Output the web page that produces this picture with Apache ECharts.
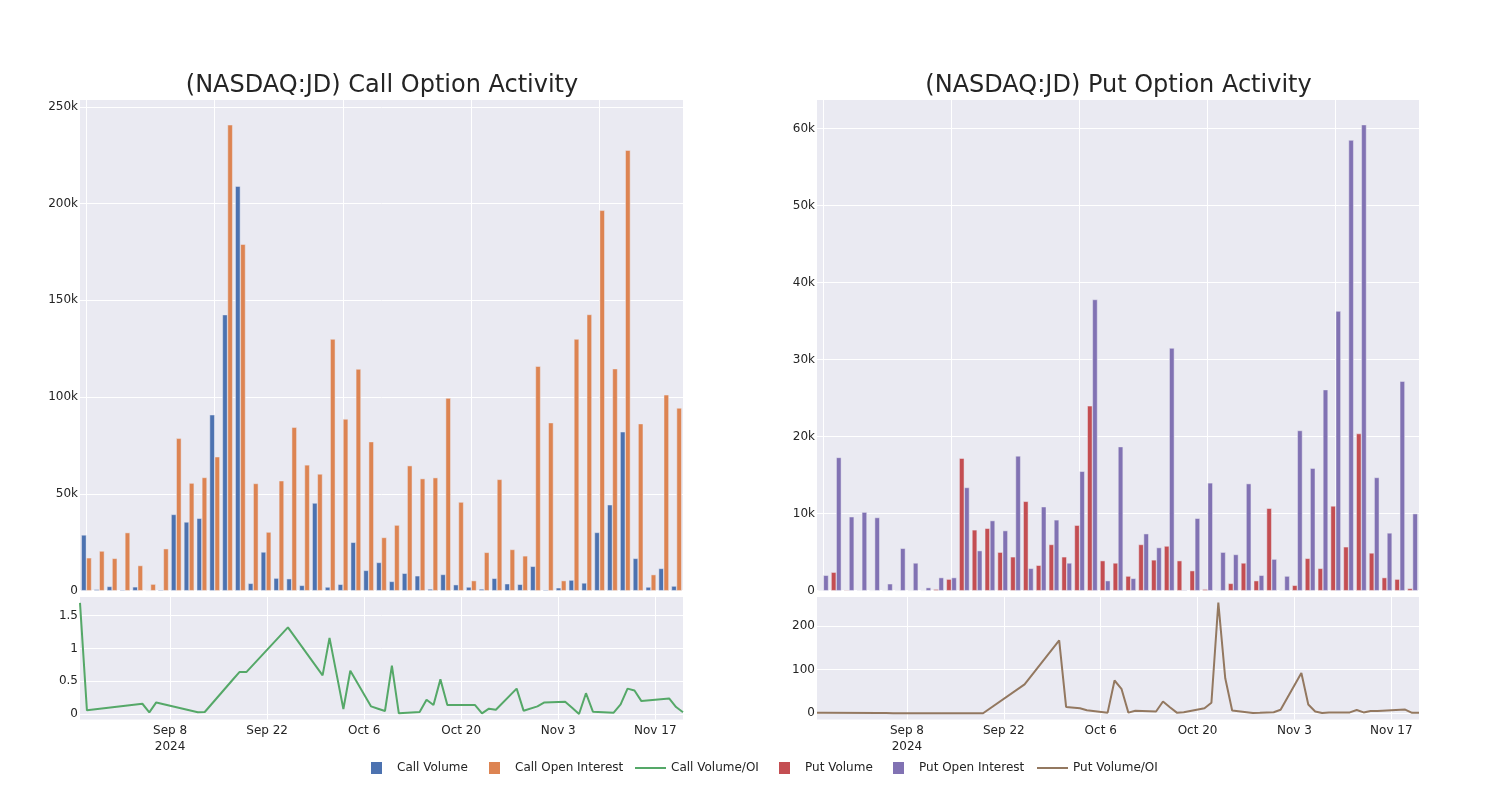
<!DOCTYPE html>
<html>
<head>
<meta charset="utf-8">
<script src="https://cdn.jsdelivr.net/npm/echarts@6/dist/echarts.min.js"></script>
<style>
  html, body { margin: 0; padding: 0; background: #fff; }
  #chart { width: 1500px; height: 800px; }
</style>
</head>
<body>
<div id="chart"></div>
<script>
// ---------- DATA ----------
const dates = [
  '2024-08-26','2024-08-27','2024-09-04','2024-09-05','2024-09-06','2024-09-12','2024-09-13',
  '2024-09-17','2024-09-18','2024-09-19','2024-09-25','2024-09-30','2024-10-01','2024-10-03',
  '2024-10-04','2024-10-07','2024-10-08','2024-10-09','2024-10-10','2024-10-11','2024-10-14',
  '2024-10-15','2024-10-16','2024-10-17','2024-10-18','2024-10-21','2024-10-22','2024-10-23',
  '2024-10-24','2024-10-25','2024-10-28','2024-10-29','2024-10-31','2024-11-01','2024-11-04',
  '2024-11-05','2024-11-06','2024-11-07','2024-11-08','2024-11-11','2024-11-12','2024-11-13',
  '2024-11-14','2024-11-15','2024-11-19','2024-11-20','2024-11-21'
];
const callVolume = [
  28800, 700, 2200, 500, 2000, 100, 500, 39400, 35500, 37400, 90900, 142600, 209000, 3800,
  20000, 6500, 6200, 2750, 45300, 1900, 3300, 25000, 10500, 14600, 4800, 9000, 7700, 900,
  8400, 3100, 1900, 900, 6400, 3600, 3300, 12600, 500, 1500, 5500, 4000, 30100, 44400,
  82100, 16700, 1900, 11500, 2400
];
const callOpenInterest = [
  17000, 20500, 16700, 30000, 13000, 3400, 21700, 78700, 55600, 58500, 69200, 240700, 179000, 55400,
  30300, 56800, 84400, 65000, 60300, 130000, 88700, 114500, 77000, 27500, 33900, 64600, 57900, 58400,
  99500, 45800, 5200, 19800, 57500, 21300, 18000, 116000, 86800, 5200, 130000, 142700, 196500, 114700,
  227600, 86300, 8300, 101200, 94400
];
const callVolumeOI = [
  1.69, 0.06, 0.16, 0.03, 0.18, 0.03, 0.035, 0.52, 0.64, 0.64, 1.32, 0.59, 1.16, 0.08,
  0.66, 0.12, 0.085, 0.05, 0.74, 0.015, 0.035, 0.22, 0.14, 0.53, 0.14, 0.14, 0.14, 0.015,
  0.085, 0.07, 0.39, 0.055, 0.12, 0.18, 0.19, 0.1, 0.005, 0.32, 0.04, 0.025, 0.15, 0.39,
  0.36, 0.2, 0.24, 0.11, 0.03
];
const putVolume = [
  50, 2400, 100, 50, 20, 20, 20, 20, 20, 200, 1500, 17200, 7900, 8100,
  5000, 4400, 11600, 3300, 6000, 4400, 8500, 24000, 3900, 3600, 1900, 6000, 4000, 5800,
  3900, 2600, 200, 50, 950, 3600, 1300, 10700, 50, 700, 4200, 2900, 11000, 5700,
  20400, 4900, 1700, 1500, 300
];
const putOpenInterest = [
  2000, 17300, 9600, 10200, 9500, 900, 5500, 3600, 400, 1700, 1700, 13400, 5200, 9100,
  7800, 17500, 2900, 10900, 9200, 3600, 15500, 37800, 1300, 18700, 1600, 7400, 5600, 31500,
  100, 9400, 14000, 5000, 4700, 13900, 2000, 4100, 1900, 20800, 15900, 26100, 36300, 58500,
  60500, 14700, 7500, 27200, 10000
];
const putVolumeOI = [
  1, 1, 0.5, 0.5, 0.3, 0.2, 0.1, 0.1, 0.1, 0.2, 66, 167, 14.5, 11.5,
  7, 1.5, 75, 56, 1.5, 6, 4, 27, 14, 1.5, 2.3, 11.5, 24, 253,
  80, 6.5, 0.5, 1, 2.5, 8, 92, 20, 4, 0.5, 2, 2, 7.5, 2,
  5, 5, 8.5, 1, 1
];
const xTickDates = ['2024-09-08','2024-09-22','2024-10-06','2024-10-20','2024-11-03','2024-11-17'];
const callBarTicks = [0, 50000, 100000, 150000, 200000, 250000];
const callRatioTicks = [0, 0.5, 1, 1.5];
const putBarTicks = [0, 10000, 20000, 30000, 40000, 50000, 60000];
const putRatioTicks = [0, 100, 200];
const xRange = ['2024-08-26', '2024-11-21'];

// ---------- HELPERS ----------
const MONTHS = ['Jan','Feb','Mar','Apr','May','Jun','Jul','Aug','Sep','Oct','Nov','Dec'];
function ts(s) { const p = s.split('-').map(Number); return new Date(p[0], p[1] - 1, p[2]).getTime(); }
function fmtY(v) { if (v === 0) return '0'; if (Math.abs(v) >= 1000) return (v / 1000) + 'k'; return String(v); }
const firstTick = ts(xTickDates[0]);
function fmtX(v) {
  const d = new Date(v);
  let s = MONTHS[d.getMonth()] + ' ' + d.getDate();
  if (Math.abs(v - firstTick) < 3600000) s += '\n' + d.getFullYear();
  return s;
}

const FONT = 'DejaVu Sans';
const TXT = '#242424';
const GRIDBG = '#eaeaf2';

function gridDef(left, top, width, height) {
  return { left, top, width, height, show: true, backgroundColor: GRIDBG, borderWidth: 0, containLabel: false };
}
function catX(gi) {
  return {
    type: 'category', gridIndex: gi, data: dates, boundaryGap: true,
    axisLabel: { show: false }, axisTick: { show: false, alignWithLabel: true, interval: 9 },
    axisLine: { show: false },
    splitLine: { show: true, interval: 9, alignWithLabel: true, lineStyle: { color: '#ffffff', width: 1 } }
  };
}
function dateX(gi) {
  const cv = xTickDates.map(ts);
  return {
    type: 'value', gridIndex: gi, min: ts(xRange[0]), max: ts(xRange[1]),
    axisLine: { show: false },
    axisTick: { show: false, customValues: cv },
    axisLabel: { customValues: cv, formatter: fmtX, color: TXT, fontFamily: FONT, fontSize: 12, margin: 3, lineHeight: 16, hideOverlap: false },
    splitLine: { show: true, customValues: cv, lineStyle: { color: '#ffffff', width: 1 } }
  };
}
function valY(gi, min, max, ticks) {
  return {
    type: 'value', gridIndex: gi, min, max,
    axisLine: { show: false },
    axisTick: { show: false, customValues: ticks },
    axisLabel: { customValues: ticks, formatter: fmtY, color: TXT, fontFamily: FONT, fontSize: 12, margin: 2 },
    splitLine: { show: true, customValues: ticks, lineStyle: { color: '#ffffff', width: 1 } }
  };
}
function barS(name, color, data, axis) {
  return {
    type: 'bar', name, data, xAxisIndex: axis, yAxisIndex: axis,
    barGap: '0%', barCategoryGap: '20%',
    itemStyle: { color, borderColor: GRIDBG, borderWidth: 0.5 },
    emphasis: { disabled: true }
  };
}
function lineS(name, color, vals, axis) {
  return {
    type: 'line', name, xAxisIndex: axis, yAxisIndex: axis,
    data: dates.map((d, i) => [ts(d), vals[i]]),
    symbol: 'none', showSymbol: false,
    lineStyle: { color, width: 2 }, itemStyle: { color },
    emphasis: { disabled: true }
  };
}
function legendItem(name, left, isLine) {
  return {
    data: [name], left, top: 757, orient: 'horizontal',
    itemWidth: isLine ? 31 : 11, itemHeight: isLine ? 2 : 12,
    icon: 'rect',
    itemStyle: { borderWidth: 0 },
    lineStyle: { width: 0 },
    selectedMode: false,
    textStyle: { color: TXT, fontFamily: FONT, fontSize: 12, padding: isLine ? [0, 0, 0, 0] : [0, 0, 0, 10] }
  };
}

const chart = echarts.init(document.getElementById('chart'), null, { renderer: 'canvas' });
chart.setOption({
  animation: false,
  backgroundColor: '#ffffff',
  textStyle: { fontFamily: FONT },
  title: [
    { text: '(NASDAQ:JD) Call Option Activity', left: 377, top: 69, textAlign: 'center',
      textStyle: { fontFamily: FONT, fontSize: 24, fontWeight: 'normal', color: TXT } },
    { text: '(NASDAQ:JD) Put Option Activity', left: 1113.5, top: 69, textAlign: 'center',
      textStyle: { fontFamily: FONT, fontSize: 24, fontWeight: 'normal', color: TXT } }
  ],
  grid: [
    gridDef(80, 100, 603, 490.7),
    gridDef(80, 597, 603, 122.5),
    gridDef(817, 100, 602, 490.7),
    gridDef(817, 597, 602, 122.5)
  ],
  xAxis: [catX(0), dateX(1), catX(2), dateX(3)],
  yAxis: [
    valY(0, 0, 253500, callBarTicks),
    valY(1, -0.079, 1.78, callRatioTicks),
    valY(2, 0, 63700, putBarTicks),
    valY(3, -14.2, 266, putRatioTicks)
  ],
  legend: [
    legendItem('Call Volume', 366, false),
    legendItem('Call Open Interest', 484, false),
    legendItem('Call Volume/OI', 630, true),
    legendItem('Put Volume', 774, false),
    legendItem('Put Open Interest', 888, false),
    legendItem('Put Volume/OI', 1032, true)
  ],
  series: [
    barS('Call Volume', '#4c72b0', callVolume, 0),
    barS('Call Open Interest', '#dd8452', callOpenInterest, 0),
    lineS('Call Volume/OI', '#55a868', callVolumeOI, 1),
    barS('Put Volume', '#c44e52', putVolume, 2),
    barS('Put Open Interest', '#8172b3', putOpenInterest, 2),
    lineS('Put Volume/OI', '#937860', putVolumeOI, 3)
  ]
});
</script>
</body>
</html>
